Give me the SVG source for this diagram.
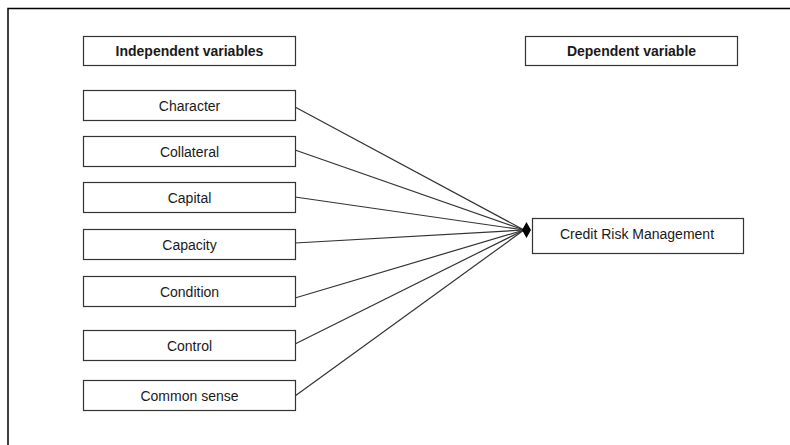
<svg xmlns="http://www.w3.org/2000/svg" width="790" height="445" viewBox="0 0 790 445">
<style>
.box{fill:#fff;stroke:#333;stroke-width:1.2}
.t{font-family:"Liberation Sans",Arial,sans-serif;font-size:14px;fill:#1a1a1a;text-anchor:middle}
.b{font-weight:bold}
.c{stroke:#333;stroke-width:1.2;fill:none}
</style>
<rect width="790" height="445" fill="#fff"/>
<g id="frame"><path d="M8 445 V8.5 H790" fill="none" stroke="#000" stroke-width="1.5"/></g>
<g id="connectors">
<line class="c" x1="295" y1="107" x2="524" y2="230"/>
<line class="c" x1="295" y1="150" x2="524" y2="230"/>
<line class="c" x1="295" y1="197" x2="524" y2="230"/>
<line class="c" x1="295" y1="243" x2="524" y2="230"/>
<line class="c" x1="295" y1="298" x2="524" y2="230"/>
<line class="c" x1="295" y1="344" x2="524" y2="230"/>
<line class="c" x1="295" y1="396" x2="524" y2="230"/>
<path d="M526.5 222 L531 230 L526.5 238 L522 230 Z" fill="#000"/>
</g>
<g id="n-indep"><rect class="box" x="83.5" y="36.5" width="212" height="29"/><text class="t b" x="189.5" y="56">Independent variables</text></g>
<g id="n-dep"><rect class="box" x="525.5" y="36.5" width="212" height="29"/><text class="t b" x="631.5" y="56">Dependent variable</text></g>
<g id="n-character"><rect class="box" x="83.5" y="90.5" width="212" height="30"/><text class="t" x="189.5" y="110.5">Character</text></g>
<g id="n-collateral"><rect class="box" x="83.5" y="136.5" width="212" height="30"/><text class="t" x="189.5" y="156.5">Collateral</text></g>
<g id="n-capital"><rect class="box" x="83.5" y="182.5" width="212" height="30"/><text class="t" x="189.5" y="202.5">Capital</text></g>
<g id="n-capacity"><rect class="box" x="83.5" y="229.5" width="212" height="30"/><text class="t" x="189.5" y="249.5">Capacity</text></g>
<g id="n-condition"><rect class="box" x="83.5" y="276.5" width="212" height="30"/><text class="t" x="189.5" y="296.5">Condition</text></g>
<g id="n-control"><rect class="box" x="83.5" y="330.5" width="212" height="30"/><text class="t" x="189.5" y="350.5">Control</text></g>
<g id="n-common"><rect class="box" x="83.5" y="380.5" width="212" height="30"/><text class="t" x="189.5" y="400.5">Common sense</text></g>
<g id="n-crm"><rect class="box" x="532.5" y="218.5" width="211" height="35"/><text class="t" x="637" y="238.5">Credit Risk Management</text></g>
</svg>
